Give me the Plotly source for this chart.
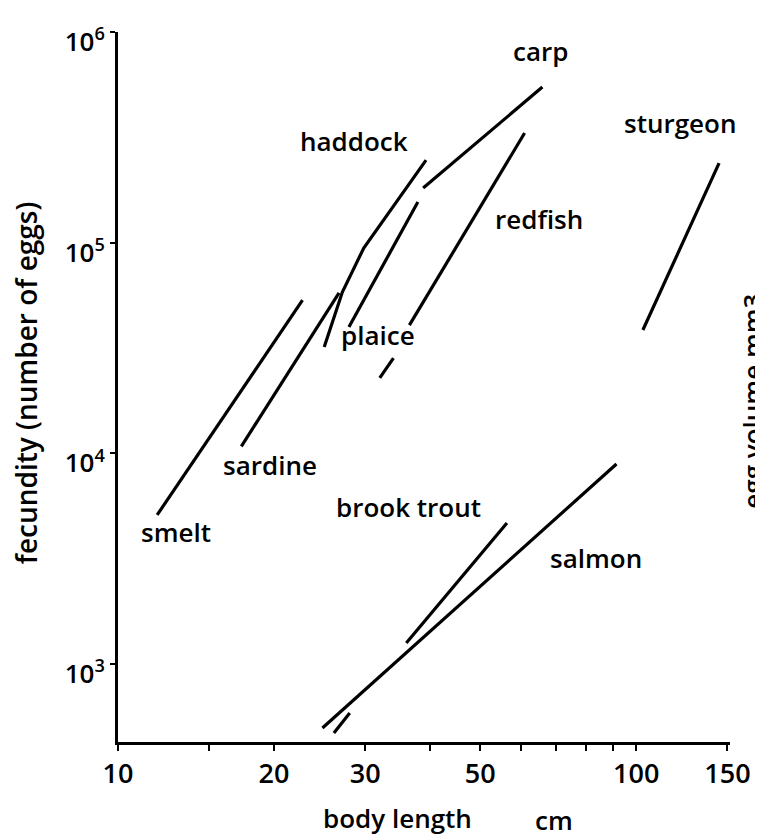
import plotly.graph_objects as go

# ---- data ----
smelt_len = [11.9, 22.7]
smelt_fec = [5100, 53400]

sardine_len = [17.3, 26.7]
sardine_fec = [10800, 57700]

haddock_len = [25.0, 27.1, 29.8, 39.3]
haddock_fec = [32000, 58300, 94300, 246600]

plaice_len = [27.9, 37.9]
plaice_fec = [39800, 155800]

carp_len = [38.8, 65.9]
carp_fec = [181600, 547700]

redfish_len = [32.0, 34.0, None, 36.5, 60.9]
redfish_fec = [22800, 28300, None, 40600, 331400]

sturgeon_len = [103, 144.5]
sturgeon_fec = [38500, 238700]

salmon_len = [24.8, 91.6]
salmon_fec = [497, 8900]

brook_trout_len = [26.1, 28.0, None, 36.0, 56.3]
brook_trout_fec = [471, 586, None, 1258, 4668]

x_tick_vals = [10, 15, 20, 30, 40, 50, 60, 70, 80, 90, 100, 150]
x_tick_text = ["10", "", "20", "30", "", "50", "", "", "", "", "100", "150"]
y_tick_vals = [1e3, 1e4, 1e5, 1e6]
y_tick_text = ["10<sup>3</sup>", "10<sup>4</sup>", "10<sup>5</sup>", "10<sup>6</sup>"]

series = [
    ("smelt", smelt_len, smelt_fec),
    ("sardine", sardine_len, sardine_fec),
    ("haddock", haddock_len, haddock_fec),
    ("plaice", plaice_len, plaice_fec),
    ("carp", carp_len, carp_fec),
    ("redfish", redfish_len, redfish_fec),
    ("sturgeon", sturgeon_len, sturgeon_fec),
    ("salmon", salmon_len, salmon_fec),
    ("brook trout", brook_trout_len, brook_trout_fec),
]

# ---- layout geometry (page body has an 8px margin) ----
OFF = 8
W, H = 763 - OFF, 836 - OFF
ML, MR, MT, MB = 118 - OFF, 25, 32 - OFF, 94
PW, PH = W - ML - MR, H - MT - MB
FONT = "Open Sans"
WEIGHT = 600


def paper(px, py):
    # px, py in page pixels
    return (px - OFF - ML) / PW, (H - MB - (py - OFF)) / PH


fig = go.Figure()
for name, L, F in series:
    fig.add_trace(go.Scatter(x=L, y=F, mode="lines", name=name,
                             line=dict(color="black", width=3.2),
                             connectgaps=False, showlegend=False,
                             hoverinfo="skip"))

label_pos = {
    "carp": (546, 51), "sturgeon": (687, 123), "haddock": (357, 141),
    "redfish": (545, 219), "plaice": (381, 335), "sardine": (272, 465),
    "smelt": (177, 532), "brook trout": (412, 507), "salmon": (602, 558),
}
annotations = []
for name, (px, py) in label_pos.items():
    x, y = paper(px, py)
    annotations.append(dict(x=x, y=y, xref="paper", yref="paper", text=name,
                            showarrow=False, xanchor="center", yanchor="middle",
                            font=dict(family=FONT, size=26, color="black",
                                      weight=WEIGHT)))

for txt, (px, py), ang, sz in [("body length", (401, 818), 0, 26),
                               ("cm", (560, 820), 0, 26),
                               ("fecundity (number of eggs)", (25, 383), -90, 28),
                               ("egg volume mm3", (760, 401), -90, 26)]:
    x, y = paper(px, py)
    annotations.append(dict(x=x, y=y, xref="paper", yref="paper", text=txt,
                            showarrow=False, xanchor="center", yanchor="middle",
                            textangle=ang,
                            font=dict(family=FONT, size=sz, color="black",
                                      weight=WEIGHT)))

fig.update_layout(
    width=W, height=H,
    margin=dict(l=ML, r=MR, t=MT, b=MB, pad=0),
    paper_bgcolor="white", plot_bgcolor="white",
    annotations=annotations,
    xaxis=dict(type="log", range=[1, 1 + PW / 525], showline=True,
               linecolor="black", linewidth=3, ticks="outside", ticklen=6,
               tickwidth=2, tickcolor="black", tickvals=x_tick_vals,
               ticktext=x_tick_text, showgrid=False, zeroline=False,
               tickfont=dict(family=FONT, size=27, color="black",
                             weight=WEIGHT)),
    yaxis=dict(type="log", range=[3 - 78 / 210.7, 6.0], showline=True,
               linecolor="black", linewidth=3, ticks="outside", ticklen=5,
               tickwidth=2, tickcolor="black", tickvals=y_tick_vals,
               ticktext=y_tick_text, showgrid=False, zeroline=False,
               ticklabelshift=10,
               tickfont=dict(family=FONT, size=26, color="black",
                             weight=WEIGHT)),
)

fig.write_html("out.html")
